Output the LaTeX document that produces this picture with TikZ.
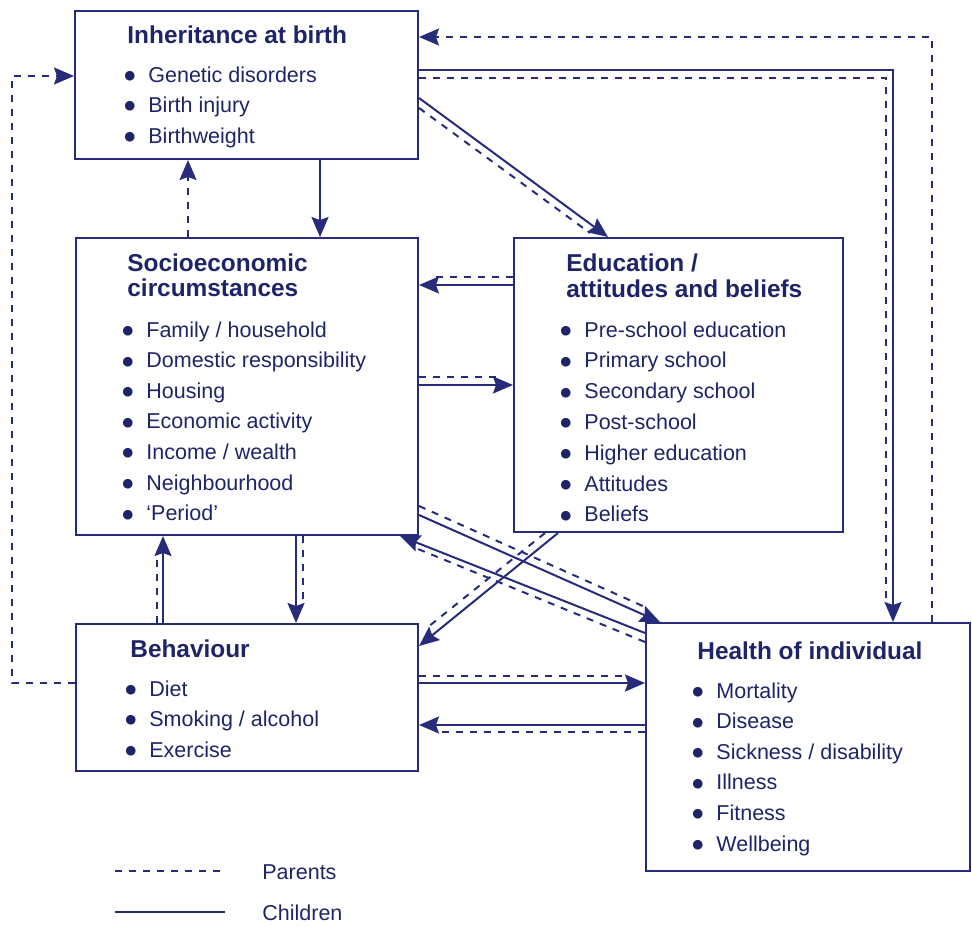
\documentclass[tikz,border=0pt]{standalone}
\usepackage{fontspec}
\setmainfont{Liberation Sans}
\newfontfamily\dotfont{DejaVu Sans}
\usepackage{tikz}
\usetikzlibrary{arrows.meta,calc}
\definecolor{navyx}{HTML}{262C7A}
\definecolor{inkx}{HTML}{1E2468}
\newcommand{\bul}{\makebox[12pt][l]{\raisebox{1.3pt}{\dotfont\fontsize{6.3}{7}\selectfont ●}}}
\tikzset{
  box/.style={draw=navyx,line width=1pt,anchor=north west,inner sep=0pt},
  ttl/.style={anchor=base west,inner sep=0pt,text=inkx,font=\fontsize{12.2}{14}\selectfont\bfseries},
  itm/.style={anchor=base west,inner sep=0pt,text=inkx,font=\fontsize{10.75}{13}\selectfont},
  kid/.style={draw=navyx,line width=1pt},
  par/.style={draw=navyx,line width=1pt,dash pattern=on 3.5pt off 3.5pt},
  arr/.style={-{Stealth[length=10pt,width=8.5pt,inset=1.5pt]}}
}

\begin{document}
\begin{tikzpicture}[x=0.5pt,y=-0.5pt]
\useasboundingbox (0,0) rectangle (972,926);

% boxes
\node[box,minimum width=171.5pt,minimum height=74pt] (inh) at (74,10) {};
\node[box,minimum width=171pt,minimum height=148.5pt] (soc) at (75,237) {};
\node[box,minimum width=164.5pt,minimum height=147pt] (edu) at (513,237) {};
\node[box,minimum width=171pt,minimum height=73.5pt] (beh) at (75,623) {};
\node[box,minimum width=162pt,minimum height=124pt] (hea) at (645,622) {};

% titles
\node[ttl] (inhT) at (127,43) {Inheritance at birth};
\node[ttl] (socT) at (127,271) {Socioeconomic};
\node[ttl] (socT2) at (127,296) {circumstances};
\node[ttl] (eduT) at (566,271) {Education /};
\node[ttl] (eduT2) at (566,297) {attitudes and beliefs};
\node[ttl] (behT) at (130,657) {Behaviour};
\node[ttl] (heaT) at (697,659) {Health of individual};

% items
\foreach \t [count=\i from 0] in {Genetic disorders,Birth injury,Birthweight}
  \node[itm] (inh-\i) at (124,82+30.5*\i) {\bul\t};
\foreach \t [count=\i from 0] in {Family / household,Domestic responsibility,Housing,
    Economic activity,Income / wealth,Neighbourhood,`Period'}
  \node[itm] (soc-\i) at (122,337+30.6*\i) {\bul\t};
\foreach \t [count=\i from 0] in {Pre-school education,Primary school,Secondary school,
    Post-school,Higher education,Attitudes,Beliefs}
  \node[itm] (edu-\i) at (560,337+30.8*\i) {\bul\t};
\foreach \t [count=\i from 0] in {Diet,Smoking / alcohol,Exercise}
  \node[itm] (beh-\i) at (125,696+30.5*\i) {\bul\t};
\foreach \t [count=\i from 0] in {Mortality,Disease,Sickness / disability,Illness,Fitness,Wellbeing}
  \node[itm] (hea-\i) at (692,698+30.6*\i) {\bul\t};

% birth <-> socio
\draw[kid,arr] (320,0 |- inh.south) -- (320,0 |- soc.north);
\draw[par,arr] (188,0 |- soc.north) -- (188,0 |- inh.south);
% outer loops
\draw[par,arr] (beh.west |- 0,683) -| (12,76) -- (inh.west |- 0,76);
\draw[par,arr] (932,0 |- hea.north) |- (inh.east |- 0,37);
% birth -> health
\draw[kid,arr] (inh.east |- 0,70) -| (893,0 |- hea.north);
\draw[par] (inh.east |- 0,78) -| (886,604);
% birth -> education
\draw[kid,arr] (inh.east |- 0,98) -- (608,0 |- edu.north);
\draw[par] (inh.east |- 0,108) -- (590,233);
% education <-> socio
\draw[kid,arr] (edu.west |- 0,285) -- (soc.east |- 0,285);
\draw[par] (edu.west |- 0,277) -- (434,277);
\draw[kid,arr] (soc.east |- 0,385) -- (edu.west |- 0,385);
\draw[par] (soc.east |- 0,377) -- (496,377);
% socio <-> health
\draw[kid,arr] (soc.east |- 0,515) -- (660,0 |- hea.north);
\draw[par] (soc.east |- 0,506) -- (645,607);
\draw[kid,arr] (hea.west |- 0,633) -- (400,0 |- soc.south);
\draw[par] (hea.west |- 0,642) -- (418,549);
% education -> behaviour
\draw[kid,arr] (558,0 |- edu.south) -- (beh.east |- 0,646);
\draw[par] (545,0 |- edu.south) -- (428,627);
% socio <-> behaviour
\draw[kid,arr] (296,0 |- soc.south) -- (296,0 |- beh.north);
\draw[par] (303,0 |- soc.south) -- (303,604);
\draw[kid,arr] (163,0 |- beh.north) -- (163,0 |- soc.south);
\draw[par] (157,0 |- beh.north) -- (157,553);
% behaviour <-> health
\draw[kid,arr] (beh.east |- 0,683) -- (hea.west |- 0,683);
\draw[par] (beh.east |- 0,676) -- (626,676);
\draw[kid,arr] (hea.west |- 0,725) -- (beh.east |- 0,725);
\draw[par] (hea.west |- 0,732) -- (437,732);

% legend
\draw[par] (115,871) -- (225,871);
\node[itm] (parL) at (262,879) {Parents};
\draw[kid] (115,912) -- (225,912);
\node[itm] (kidL) at (262,920) {Children};
\end{tikzpicture}
\end{document}
